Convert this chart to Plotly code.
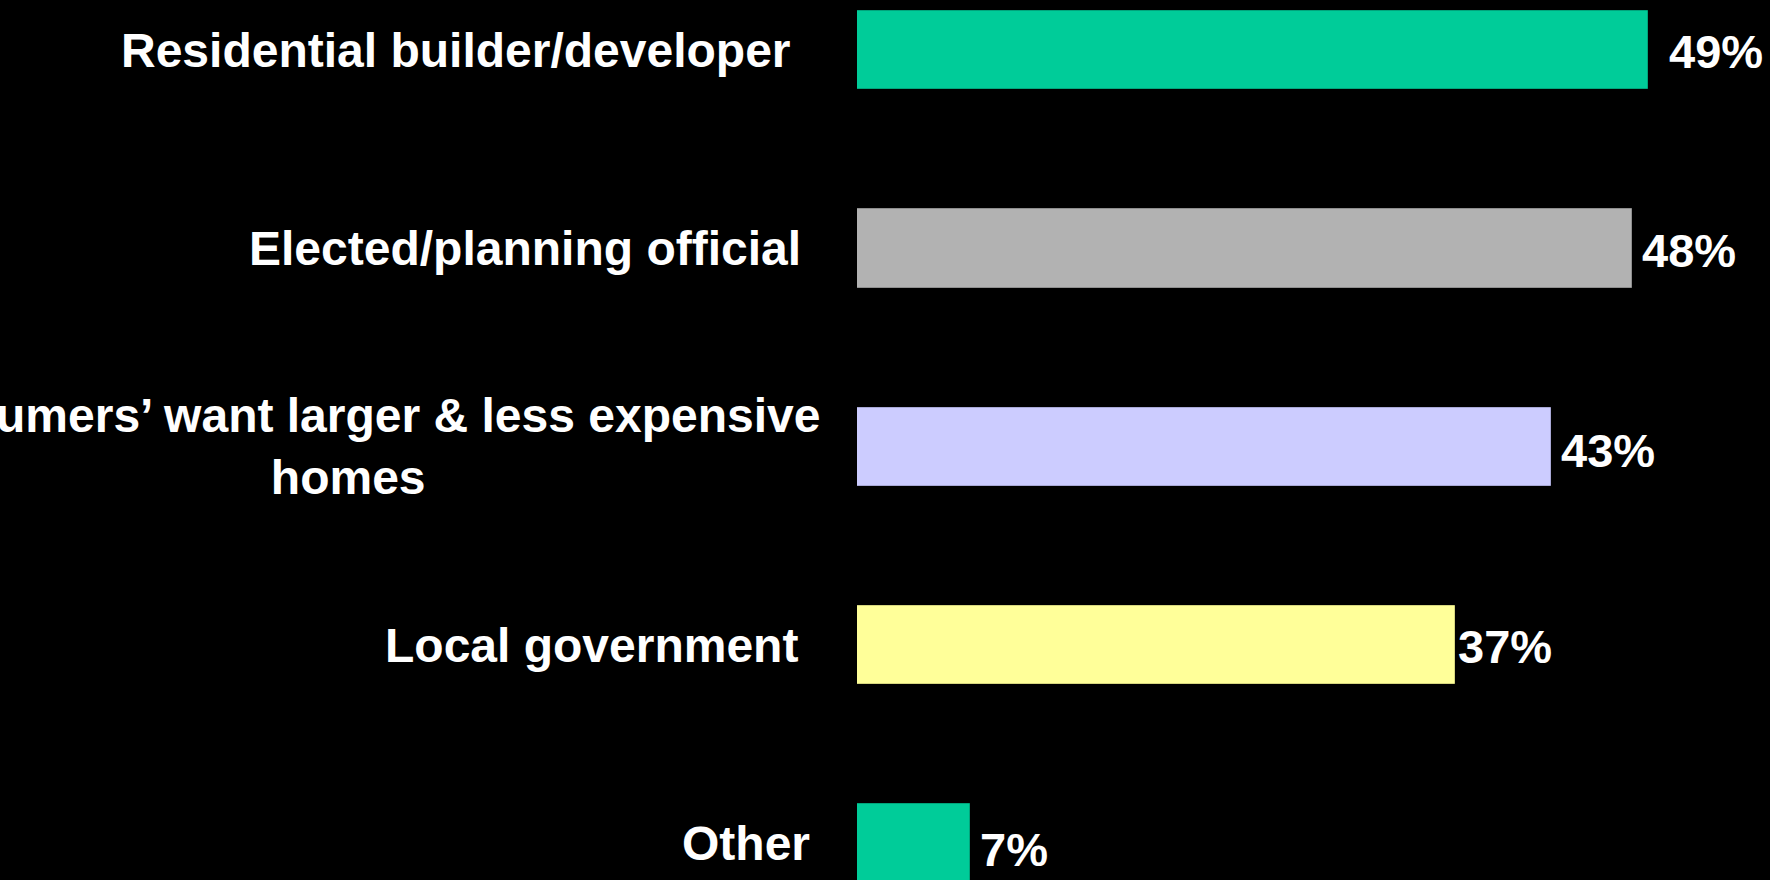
import plotly.graph_objects as go

# Survey answers (top to bottom) and share of respondents, in percent
categories = [
    "Residential builder/developer",
    "Elected/planning official",
    "Consumers\u2019 want larger & less expensive<br>homes",
    "Local government",
    "Other",
]
shares = [49, 48, 43, 37, 7]
bar_colors = ["#00CC99", "#B2B2B2", "#CCCCFF", "#FFFF99", "#00CC99"]
edge_colors = ["#00A47B", "#8E8E8E", "#A9A9D6", "#D6D67E", "#00A47B"]

# Gap in pixels between each category label and the bar start
label_gap = [64, 54, 35, 57, 45]
# Pixel nudges of the percentage labels past the bar ends
value_dx = [19, 8, 8, 1, 8]
value_dy = [-1, -2, -4, -1, -6]

FONT = "Liberation Sans, Arial, sans-serif"

fig = go.Figure(
    go.Bar(
        x=shares,
        y=categories,
        orientation="h",
        width=0.395,
        marker=dict(color=bar_colors, line=dict(color=edge_colors, width=1)),
        hoverinfo="x+y",
    )
)

for cat, gap in zip(categories, label_gap):
    fig.add_annotation(
        x=0,
        y=cat,
        xref="x",
        yref="y",
        text=cat,
        showarrow=False,
        xanchor="right",
        yanchor="middle",
        align="center",
        xshift=-gap,
        font=dict(family=FONT, size=48, color="white", weight="bold"),
    )

for cat, val, dx, dy in zip(categories, shares, value_dx, value_dy):
    fig.add_annotation(
        x=val,
        y=cat,
        xref="x",
        yref="y",
        text=f"{val}%",
        showarrow=False,
        xanchor="left",
        yanchor="middle",
        xshift=dx,
        yshift=dy,
        font=dict(family=FONT, size=47, color="white", weight="bold"),
    )

fig.update_layout(
    width=1770,
    height=880,
    margin=dict(l=857, r=0, t=0, b=0),
    paper_bgcolor="black",
    plot_bgcolor="black",
    showlegend=False,
    bargap=0,
)
fig.update_xaxes(
    range=[0, 913 / 16.15],
    visible=False,
    showgrid=False,
    zeroline=False,
)
fig.update_yaxes(
    categoryorder="array",
    categoryarray=categories,
    range=[4.184, -0.2537],
    visible=False,
    showgrid=False,
    zeroline=False,
)

fig.write_html("out.html")
